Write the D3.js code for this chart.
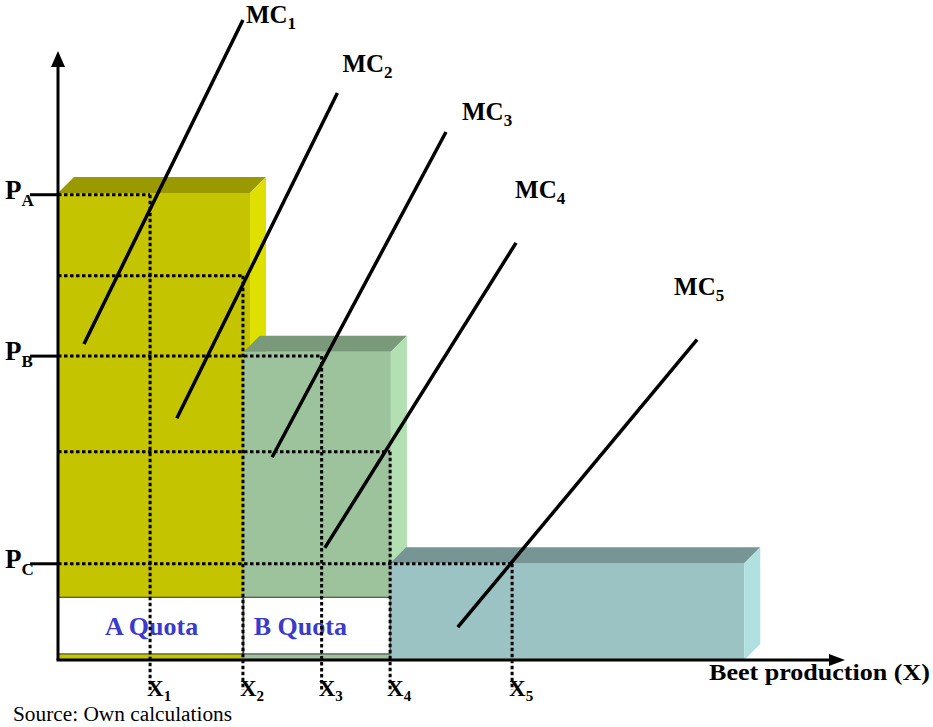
<!DOCTYPE html>
<html>
<head>
<meta charset="utf-8">
<script src="https://cdn.jsdelivr.net/npm/d3@7"></script>
<style>
  html, body { margin: 0; padding: 0; background: #ffffff; }
  svg { display: block; }
  text { font-family: "Liberation Serif", "Times New Roman", serif; }
</style>
</head>
<body>
<div id="chart"></div>
<script>
// ---------------- data ----------------
// Quota bars (production on x, price on y; arbitrary units 0-100)
const barNames  = ["A", "B", "C"];
const barStart  = [0, 23.6, 42.2];
const barEnd    = [24.4, 42.3, 87.2];
const barHeight = [76.7, 50.6, 15.9];

// Quota label band (white boxes inside bars A and B)
const quotaLabels = ["A Quota", "B Quota"];
const quotaStart  = [0, 23.6];
const quotaEnd    = [23.5, 42.2];
const quotaBottom = 1.0;
const quotaTop    = 10.3;

// Reference grid: production levels X1..X5 paired with price levels
const xLabels   = ["1", "2", "3", "4", "5"];
const xValues   = [11.7, 23.5, 33.5, 42.2, 57.7];
const levelY    = [76.4, 63.1, 49.9, 34.2, 15.8];

// Price ticks on the vertical axis
const priceLabels = ["A", "B", "C"];
const priceValues = [76.4, 49.9, 15.8];

// Marginal cost curves MC1..MC5 (start = lower-left end, end = upper-right end)
const mcLabels = ["1", "2", "3", "4", "5"];
const mcX0 = [3.3, 15.1, 27.2, 33.9, 50.8];
const mcY0 = [51.9, 39.7, 33.3, 18.4, 5.4];
const mcX1 = [23.5, 35.5, 49.3, 58.2, 81.2];
const mcY1 = [105.1, 93.1, 86.7, 68.5, 52.6];

const xAxisTitle = "Beet production (X)";
const sourceNote = "Source: Own calculations";

// ---------------- layout ----------------
const W = 933, H = 727;
const x = d3.scaleLinear().domain([0, 100]).range([58, 845]);
const y = d3.scaleLinear().domain([0, 100]).range([660, 51]);
const depth = 16;

const barColors = [
  { front: "#c5c400", top: "#9b9900", side: "#e0e000" },
  { front: "#9dc39d", top: "#7a987a", side: "#b3e0b3" },
  { front: "#9bc3c3", top: "#789595", side: "#b0e0e0" }
];
// label offsets for MC names relative to upper end of each curve (px)
const mcLabelOffset = [[3, 3], [5, -21], [16, -12], [-1, -45], [-23, -45]];
// quota label left offsets inside each box (px)
const quotaTextOffset = [47, 10];

const svg = d3.select("#chart").append("svg")
  .attr("width", W).attr("height", H);

// ---------------- bars (3D boxes) ----------------
const gBars = svg.append("g");
barNames.forEach((n, i) => {
  const x0 = x(barStart[i]), x1 = x(barEnd[i]), yt = y(barHeight[i]), yb = y(0);
  const c = barColors[i];
  const g = gBars.append("g");
  g.append("rect").attr("x", x0).attr("y", yt).attr("width", x1 - x0).attr("height", yb - yt)
    .attr("fill", c.front);
  g.append("path")
    .attr("d", `M${x0},${yt} L${x0 + depth},${yt - depth} L${x1 + depth},${yt - depth} L${x1},${yt} Z`)
    .attr("fill", c.top);
  g.append("path")
    .attr("d", `M${x1},${yt} L${x1 + depth},${yt - depth} L${x1 + depth},${yb - depth} L${x1},${yb} Z`)
    .attr("fill", c.side);
});

// ---------------- quota boxes ----------------
quotaLabels.forEach((lab, i) => {
  const x0 = x(quotaStart[i]), x1 = x(quotaEnd[i]);
  svg.append("rect")
    .attr("x", x0).attr("y", y(quotaTop)).attr("width", x1 - x0).attr("height", y(quotaBottom) - y(quotaTop))
    .attr("fill", "#ffffff").attr("stroke", "#333333").attr("stroke-width", 1);
  svg.append("text")
    .attr("x", x0 + quotaTextOffset[i]).attr("y", y((quotaTop + quotaBottom) / 2) + 9)
    .attr("font-size", 26).attr("font-weight", "bold").attr("fill", "#3a3acc")
    .text(lab);
});

// ---------------- dotted reference lines ----------------
const dash = "3.5,2.5";
const gGrid = svg.append("g").attr("stroke", "#000").attr("stroke-width", 3)
  .attr("stroke-dasharray", dash).attr("fill", "none");
xValues.forEach((xv, i) => {
  gGrid.append("line").attr("x1", x(0)).attr("x2", x(xv)).attr("y1", y(levelY[i])).attr("y2", y(levelY[i]));
  gGrid.append("line").attr("x1", x(xv)).attr("x2", x(xv)).attr("y1", y(levelY[i])).attr("y2", 690);
});

// ---------------- MC curves ----------------
const gMC = svg.append("g");
mcLabels.forEach((lab, i) => {
  gMC.append("line")
    .attr("x1", x(mcX0[i])).attr("y1", y(mcY0[i]))
    .attr("x2", x(mcX1[i])).attr("y2", y(mcY1[i]))
    .attr("stroke", "#000").attr("stroke-width", 3.5);
  const t = gMC.append("text")
    .attr("x", x(mcX1[i]) + mcLabelOffset[i][0])
    .attr("y", y(mcY1[i]) + mcLabelOffset[i][1])
    .attr("font-size", 25).attr("font-weight", "bold").attr("fill", "#000");
  t.append("tspan").text("MC");
  t.append("tspan").attr("font-size", 17).attr("dy", 6).text(lab);
});

// ---------------- axes ----------------
const gAx = svg.append("g");
gAx.append("line").attr("x1", x(0)).attr("y1", y(0)).attr("x2", x(0)).attr("y2", y(100) + 10)
  .attr("stroke", "#000").attr("stroke-width", 3);
gAx.append("path")
  .attr("d", `M${x(0)},${y(100)} L${x(0) - 7},${y(100) + 16} L${x(0) + 7},${y(100) + 16} Z`)
  .attr("fill", "#000");
gAx.append("line").attr("x1", x(0) - 1.5).attr("y1", y(0)).attr("x2", x(100) - 10).attr("y2", y(0))
  .attr("stroke", "#000").attr("stroke-width", 3);
gAx.append("path")
  .attr("d", `M${x(100)},${y(0)} L${x(100) - 16},${y(0) - 6} L${x(100) - 16},${y(0) + 6} Z`)
  .attr("fill", "#000");

// price ticks & labels
priceLabels.forEach((lab, i) => {
  const yy = y(priceValues[i]);
  gAx.append("line").attr("x1", 30).attr("x2", x(0)).attr("y1", yy).attr("y2", yy)
    .attr("stroke", "#000").attr("stroke-width", 3);
  const t = gAx.append("text").attr("x", 5).attr("y", yy + 4)
    .attr("font-size", 27).attr("font-weight", "bold").attr("fill", "#000");
  t.append("tspan").text("P");
  t.append("tspan").attr("font-size", 17).attr("dy", 7).text(lab);
});

// production labels X1..X5
xLabels.forEach((lab, i) => {
  const t = gAx.append("text").attr("x", x(xValues[i]) - 3).attr("y", 696)
    .attr("font-size", 23).attr("font-weight", "bold").attr("fill", "#000");
  t.append("tspan").text("X");
  t.append("tspan").attr("font-size", 15).attr("dy", 5).text(lab);
});

// axis title
gAx.append("text").attr("x", 709).attr("y", 680)
  .attr("font-size", 24).attr("font-weight", "bold").attr("fill", "#000")
  .attr("textLength", 221).attr("lengthAdjust", "spacingAndGlyphs")
  .text(xAxisTitle);

// source
svg.append("text").attr("x", 13).attr("y", 721)
  .attr("font-size", 20).attr("fill", "#000")
  .attr("textLength", 219).attr("lengthAdjust", "spacingAndGlyphs")
  .text(sourceNote);
</script>
</body>
</html>
